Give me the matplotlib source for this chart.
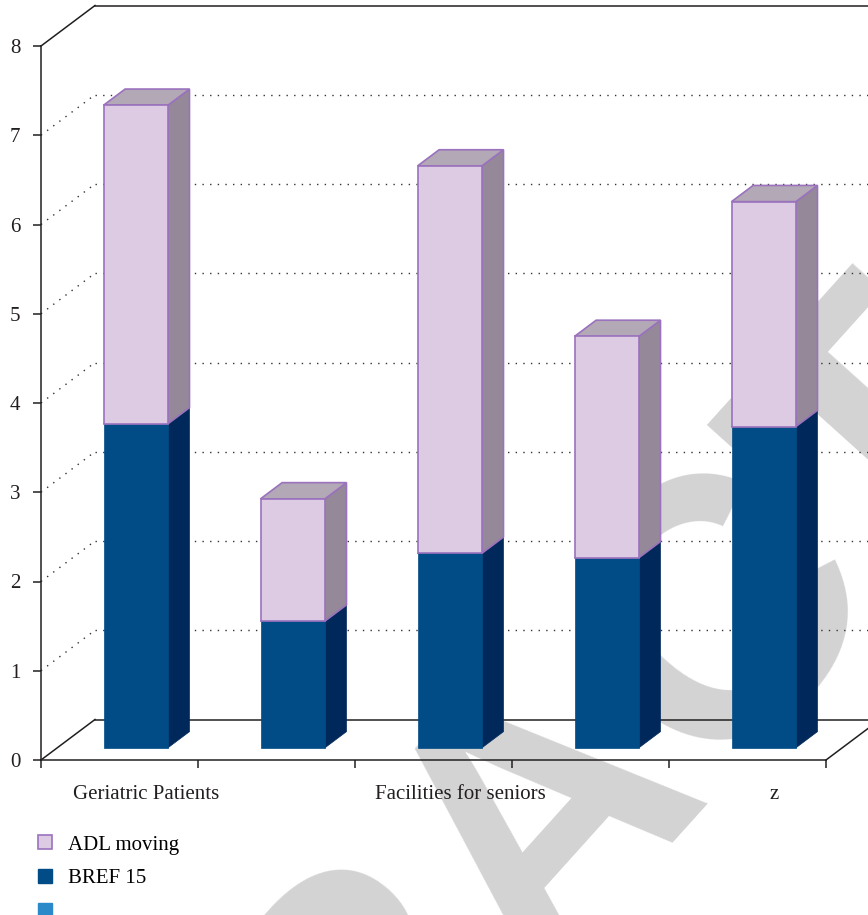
import matplotlib
matplotlib.use("Agg")
import matplotlib.pyplot as plt
from matplotlib.patches import Polygon
from matplotlib.lines import Line2D

# ---- data ----
categories = ["Geriatric Patients", "", "Facilities for seniors", "", "z"]
bref15 = [3.63, 1.42, 2.18, 2.13, 3.60]
adl_moving = [3.57, 1.37, 4.34, 2.48, 2.52]
series_names = ["ADL moving", "BREF 15", ""]
y_ticks = [0, 1, 2, 3, 4, 5, 6, 7, 8]

# ---- styling ----
W, H, DPI = 868, 915, 100
SERIF = ["Liberation Serif", "DejaVu Serif"]
FS = 15
ADL = dict(front="#dccbe2", side="#958898", top="#b2a8b6", edge="#9a72bd")
BREF = dict(front="#014c86", side="#01285a", top="#01285a", edge=None)
EXTRA = "#2a89c9"
LINE = "#231f20"

fig = plt.figure(figsize=(W / DPI, H / DPI), dpi=DPI)
ax = fig.add_axes([41 / W, (H - 760) / H, 785 / W, 714 / H])
ax.set_xlim(0, len(categories))
ax.set_ylim(0, y_ticks[-1])
ax.patch.set_visible(False)

# depth of the pseudo-3D box, in data units (54 px right, 40.5 px up)
DX = 54 / (785 / len(categories))
DY = 40.5 / (714 / y_ticks[-1])
F0, F1 = 0.30, 0.70      # bar front / back depth fractions
BW = 0.41                # bar width (category units)

# watermark
fig.text(0.630, 0.112, "RETRACTED", rotation=48, rotation_mode="anchor",
         ha="center", va="center", fontsize=266, fontweight="bold",
         family="Liberation Sans", color="#d3d3d3", zorder=-1)


def line(xs, ys, **kw):
    ax.add_line(Line2D(xs, ys, clip_on=False, **kw))


nx = len(categories)
solid = dict(color=LINE, lw=1.1, zorder=2)
dotted = dict(color="#333333", lw=1.0, ls=(0, (1, 4.5)), zorder=1)

# box frame
line([DX, nx + DX], [DY, DY], **solid)
line([DX, nx + DX], [y_ticks[-1] + DY] * 2, **solid)
line([0, DX], [y_ticks[-1], y_ticks[-1] + DY], **solid)
line([0, DX], [0, DY], **solid)
line([nx, nx + DX], [0, DY], **solid)

# grid on back and side wall
for v in y_ticks[1:-1]:
    line([DX, nx + DX], [v + DY, v + DY], **dotted)
    line([0, DX], [v, v + DY], **dotted)


def box(xc, b, t, col):
    x0, x1 = xc - BW / 2, xc + BW / 2
    ec = col["edge"]
    kw = dict(closed=True, clip_on=False, zorder=3,
              lw=1.2 if ec else 0.5)
    front = [(x0 + F0 * DX, b + F0 * DY), (x1 + F0 * DX, b + F0 * DY),
             (x1 + F0 * DX, t + F0 * DY), (x0 + F0 * DX, t + F0 * DY)]
    side = [(x1 + F0 * DX, b + F0 * DY), (x1 + F1 * DX, b + F1 * DY),
            (x1 + F1 * DX, t + F1 * DY), (x1 + F0 * DX, t + F0 * DY)]
    top = [(x0 + F0 * DX, t + F0 * DY), (x1 + F0 * DX, t + F0 * DY),
           (x1 + F1 * DX, t + F1 * DY), (x0 + F1 * DX, t + F1 * DY)]
    for pts, key in ((side, "side"), (top, "top"), (front, "front")):
        ax.add_patch(Polygon(pts, fc=col[key], ec=ec or col[key], **kw))


for i, (b, a) in enumerate(zip(bref15, adl_moving)):
    xc = i + 0.5
    box(xc, 0, b, BREF)
    box(xc, b, b + a, ADL)

# axes, ticks, labels
for s in ("top", "right"):
    ax.spines[s].set_visible(False)
for s in ("left", "bottom"):
    ax.spines[s].set_color(LINE)
    ax.spines[s].set_linewidth(1.1)
    ax.spines[s].set_zorder(2.5)

ax.set_yticks(y_ticks)
ax.set_yticklabels([str(v) for v in y_ticks], family=SERIF, fontsize=FS,
                   color="#231f20")
ax.tick_params(axis="y", length=6, width=1.1, pad=9, color=LINE)

ax.set_xticks([i + 0.5 + 0.5 * DX for i in range(nx)])
ax.set_xticklabels(categories, family=SERIF, fontsize=FS, color="#231f20")
ax.set_xticks(range(nx + 1), minor=True)
ax.tick_params(axis="x", which="major", length=0, pad=18)
ax.tick_params(axis="x", which="minor", length=6, width=1.1, color=LINE)

# legend
handles = [
    Line2D([], [], ls="none", marker="s", markersize=9.5,
           mfc=ADL["front"], mec=ADL["edge"], mew=1.2),
    Line2D([], [], ls="none", marker="s", markersize=9.5,
           mfc=BREF["front"], mec=BREF["front"]),
    Line2D([], [], ls="none", marker="s", markersize=9.5,
           mfc=EXTRA, mec=EXTRA),
]
fig.legend(handles, series_names, loc="upper left",
           bbox_to_anchor=(37 / W, 1 - 835 / H), frameon=False,
           prop=dict(family=SERIF, size=FS), handlelength=0.8,
           handletextpad=0.7, labelspacing=0.68, borderpad=0,
           borderaxespad=0)

fig.savefig("out.png", dpi=DPI)
